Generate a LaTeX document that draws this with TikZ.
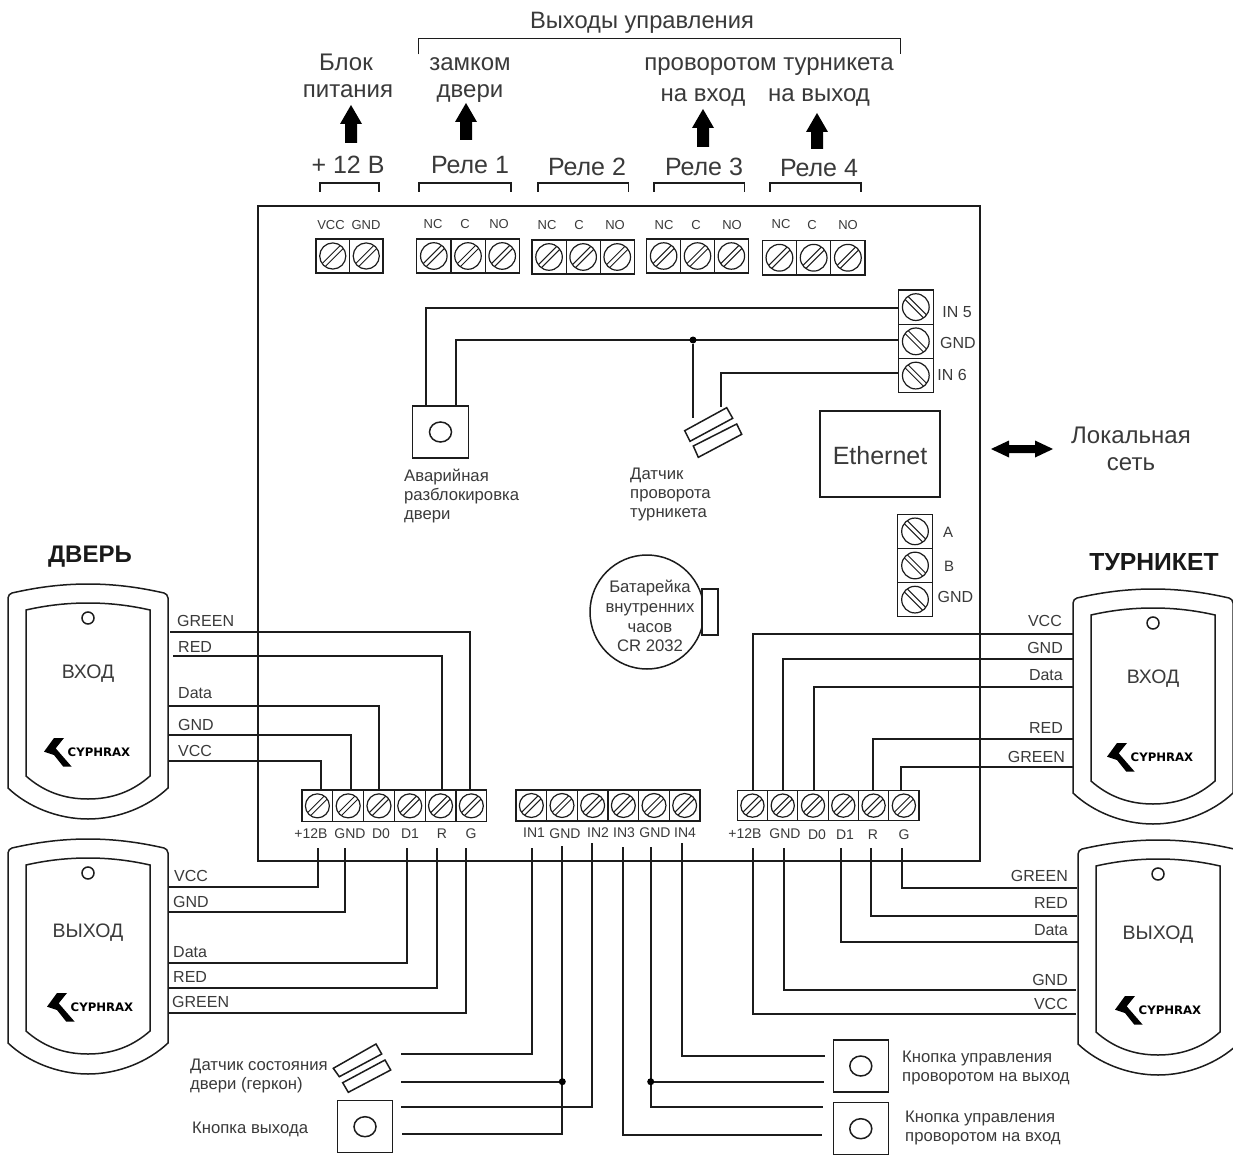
\documentclass[tikz,border=0pt]{standalone}
\usepackage{fontspec}
\setmainfont{Liberation Sans}
\newfontfamily\logofont{DejaVu Sans}
\definecolor{txt}{HTML}{3A3A3A}
\definecolor{ln}{HTML}{1C1C1C}
\tikzset{
  fs/.style={font=\fontsize{#1}{#1}\selectfont},
  lab/.style={inner sep=0pt,text=txt,fs=#1,text height=0.66*#1 pt,text depth=0pt},
  lab/.default=16,
  board/.style={draw=ln,line width=2pt},
  wire/.style={draw=ln,line width=2pt,line cap=butt,line join=miter},
  thin part/.style={draw=ln,line width=1.5pt},
  cell/.style={draw=ln,line width=1.2pt},
  fatarrow/.style={fill=black,draw=none},
  jdot/.style={circle,fill=black,inner sep=0pt,minimum size=7pt},
  heading/.style={inner sep=0pt,font=\bfseries\fontsize{#1}{#1}\selectfont,text=black!90,text height=0.66*#1 pt,text depth=0pt},
}
\newcommand\screw[4]{% cx,cy,r,dir
  \draw[cell] (#1,#2) circle[radius=#3];
  \pgfmathsetmacro\ex{0.68*#3}
  \pgfmathsetmacro\dd{#4}
  \draw[ln,line width=1pt] (#1-\ex*\dd-1.5,#2+\ex-1.5*\dd) -- (#1+\ex*\dd-1.5,#2-\ex-1.5*\dd);
  \draw[ln,line width=1pt] (#1-\ex*\dd+1.5,#2+\ex+1.5*\dd) -- (#1+\ex*\dd+1.5,#2-\ex+1.5*\dd);
}
\newcommand\blockh[7]{%
  \foreach \i in {1,...,#6}{
    \pgfmathsetmacro\xa{#2+(\i-1)*(#4-#2)/#6}
    \pgfmathsetmacro\xb{#2+\i*(#4-#2)/#6}
    \pgfmathsetmacro\xc{(\xa+\xb)/2}
    \pgfmathsetmacro\yc{(#3+#5)/2}
    \pgfmathsetmacro\rr{0.39*min(\xb-\xa,#5-#3)}
    \coordinate (#1\i) at (\xc,\yc);
    \draw[cell] (\xa,#3) rectangle (\xb,#5);
    \screw{\xc}{\yc}{\rr}{#7}
  }
}
\newcommand\blockv[7]{%
  \foreach \i in {1,...,#6}{
    \pgfmathsetmacro\ya{#3+(\i-1)*(#5-#3)/#6}
    \pgfmathsetmacro\yb{#3+\i*(#5-#3)/#6}
    \pgfmathsetmacro\yc{(\ya+\yb)/2}
    \pgfmathsetmacro\xc{(#2+#4)/2}
    \pgfmathsetmacro\rr{0.39*min(\yb-\ya,#4-#2)}
    \coordinate (#1\i) at (\xc,\yc);
    \draw[cell] (#2,\ya) rectangle (#4,\yb);
    \screw{\xc}{\yc}{\rr}{#7}
  }
}
% reader: name,x,y,text,texty,logox,logoy
\newcommand\reader[7]{%
  \begin{scope}[shift={(#2,#3)}]
    \draw[thin part,fill=white] (-80,-20) .. controls (-80,-23) and (-78,-24) .. (-76,-25)
      .. controls (-50,-31) and (-25,-34) .. (0,-34)
      .. controls (25,-34) and (50,-31) .. (76,-25)
      .. controls (78,-24) and (80,-23) .. (80,-20)
      -- (80,170) .. controls (60,189) and (30,201) .. (0,201)
      .. controls (-30,201) and (-60,189) .. (-80,170) -- cycle;
    \draw[thin part] (-62,-8) .. controls (-40,-13) and (-20,-15) .. (0,-15)
      .. controls (20,-15) and (40,-13) .. (62,-8)
      -- (62,158) .. controls (45,173) and (25,181) .. (0,181)
      .. controls (-25,181) and (-45,173) .. (-62,158) -- cycle;
    \draw[thin part] (0,0) circle[radius=6];
    \node[lab=19.5] (#1t) at (0,#5) {#4};
    \begin{scope}[shift={(#6,#7)}]
      \fill[black] (-44,-0.3) -- (-34,-14) -- (-24,-14) -- (-32.3,-3.7) -- (-16.3,14.7) -- (-24.7,14.7) -- (-34,3) -- cycle;
      \node[inner sep=0pt,font=\logofont\bfseries\fontsize{11.7}{12}\selectfont,text=black,anchor=west] (#1l) at (-20.5,0) {CYPHRAX};
    \end{scope}
  \end{scope}
}
\newcommand\button[4]{% name,x1,y1,x2 (square 55x52)
  \draw[thin part] (#2,#3) rectangle (#4,#3+52);
  \coordinate (#1) at ({(#2+#4)/2},#3+26);
  \draw[thin part] (#1) ellipse[x radius=11,y radius=10];
}
\newcommand\reedbar[8]{\draw[thin part] (#1,#2) -- (#3,#4) -- (#5,#6) -- (#7,#8) -- cycle;}
\newcommand\fatup[3]{% x,tip,bottom
  \fill[fatarrow] (#1,#2) -- (#1+11,#2+19) -- (#1+6,#2+19) -- (#1+6,#3) -- (#1-6,#3) -- (#1-6,#2+19) -- (#1-11,#2+19) -- cycle;
}
\newcommand\wire[5]{% name, reader end x,y, terminal end x,y
  \coordinate (#1a) at (#2,#3);
  \coordinate (#1b) at (#4,#5);
  \draw[wire] (#1a) -| (#1b);
}
\newcommand\brk[4]{\draw[ln,line width=1.6pt] (#1,#4) |- (#2,#3) -- (#2,#4);}
\begin{document}
\begin{tikzpicture}[x=1pt,y=-1pt]
\clip (0,0) rectangle (1233,1155);
\fill[white] (0,0) rectangle (1233,1155);

% main board
\draw[board] (258,206) rectangle (980,860.5);

% header brackets and labels
\node[lab=23.7] (hOut) at (642,21) {Выходы управления};
\brk{418.5}{900.5}{38.5}{54.5}
\node[lab=24] (hBp1) at (346,63) {Блок};
\node[lab=24] (hBp2) at (348,90) {питания};
\node[lab=24] (hLk1) at (470,63) {замком};
\node[lab=24] (hLk2) at (470,90) {двери};
\node[lab=24] (hTn) at (769,63) {проворотом турникета};
\node[lab=24] (hIn) at (703,94) {на вход};
\node[lab=24] (hOu) at (819,94) {на выход};
\fatup{351}{105}{143}
\fatup{466}{103}{140}
\fatup{703}{109}{147}
\fatup{817}{113}{149}
\node[lab=25] (h12) at (348,165) {+ 12 В};
\node[lab=25] (hR1) at (470,165) {Реле 1};
\node[lab=25] (hR2) at (587,167) {Реле 2};
\node[lab=25] (hR3) at (704,167) {Реле 3};
\node[lab=25] (hR4) at (819,168) {Реле 4};
\brk{320}{379}{183}{192}
\brk{419}{511}{183}{192}
\brk{538}{628.5}{183}{192}
\brk{654}{744.5}{183}{192}
\brk{770}{861}{183}{192}

% top terminal blocks
\blockh{tp}{316}{239}{383}{273}{2}{1}
\blockh{ra}{416.7}{239}{519.3}{273}{3}{1}
\blockh{rb}{532}{240}{634.3}{274}{3}{1}
\blockh{rc}{646.7}{239}{748.3}{273}{3}{1}
\blockh{rd}{762.3}{240.5}{865}{275}{3}{1}
\node[lab=13] (a1) at (331,225) {VCC};
\node[lab=13] (a2) at (366,225) {GND};
\node[lab=13] (a3) at (433,224) {NC};
\node[lab=13] (a4) at (465,224) {C};
\node[lab=13] (a5) at (499,224) {NO};
\node[lab=13] (a6) at (547,225) {NC};
\node[lab=13] (a7) at (579,225) {C};
\node[lab=13] (a8) at (615,225) {NO};
\node[lab=13] (a9) at (664,225) {NC};
\node[lab=13] (a10) at (696,225) {C};
\node[lab=13] (a11) at (732,225) {NO};
\node[lab=13] (a12) at (781,224) {NC};
\node[lab=13] (a13) at (812,225) {C};
\node[lab=13] (a14) at (848,225) {NO};

% right terminal blocks
\blockv{iv}{898.3}{290}{933.3}{392.7}{3}{-1}
\blockv{ab}{897.3}{514.3}{932.7}{616.7}{3}{-1}
\node[lab=16] (b1) at (957,312) {IN 5};
\node[lab=16] (b2) at (958,343) {GND};
\node[lab=16] (b3) at (952,375) {IN 6};
\node[lab=15] (b4) at (948,533) {A};
\node[lab=15] (b5) at (949,567) {B};
\node[lab=16] (b6) at (955.5,597) {GND};

% inner wiring
\coordinate (btE1) at (426,406);
\coordinate (btE2) at (456,406);
\coordinate (inA) at (898,308);
\coordinate (inB) at (898,340);
\coordinate (inC) at (898,373);
\coordinate (rdT1) at (693,418);
\coordinate (rdT2) at (721,407);
\draw[wire] (inA) -| (btE1);
\draw[wire] (inB) -| (btE2);
\draw[wire] (inC) -| (rdT2);
\node[jdot] (j1) at (693,340) {};
\draw[wire] (j1) -- (rdT1);

% emergency button
\button{bE}{412.7}{406}{468.3}
\node[lab=16.7,anchor=west] (c1) at (404,476) {Аварийная};
\node[lab=16.7,anchor=west] (c2) at (404,495) {разблокировка};
\node[lab=16.7,anchor=west] (c3) at (404,514) {двери};
% turn reed
\reedbar{684.7}{430.7}{726.7}{407.7}{732.7}{418.3}{690}{441.3}
\reedbar{693.3}{446}{736.7}{424}{741.7}{434.3}{698.3}{457.3}
\node[lab=16.7,anchor=west] (c4) at (630,474) {Датчик};
\node[lab=16.7,anchor=west] (c5) at (630,493) {проворота};
\node[lab=16.7,anchor=west] (c6) at (630,512) {турникета};

% ethernet
\node[draw=ln,line width=2pt,minimum width=120pt,minimum height=86pt,inner sep=0pt] (eth) at (879.5,453.7) {};
\node[lab=25] (ethT) at (880,456) {Ethernet};
\fill[fatarrow] (991,449) -- (1009,440.5) -- (1009,445) -- (1035,445) -- (1035,440.5) -- (1053,449) -- (1035,457.5) -- (1035,453) -- (1009,453) -- (1009,457.5) -- cycle;
\node[lab=24] (d1) at (1131,436) {Локальная};
\node[lab=24] (d2) at (1131,463) {сеть};

% battery
\node[circle,draw=ln,line width=1.5pt,minimum size=114pt,inner sep=0pt] (bat) at (647,612) {};
\draw[thin part,fill=white] (702,589) rectangle (718,635);
\node[lab=16.7] (e1) at (650,586.5) {Батарейка};
\node[lab=16.7] (e2) at (650,607) {внутренних};
\node[lab=16.7] (e3) at (650,627) {часов};
\node[lab=16.7] (e4) at (650,646) {CR 2032};

% headings
\node[heading=24] (hD) at (90,555) {ДВЕРЬ};
\node[heading=24.7] (hT) at (1154,562) {ТУРНИКЕТ};

% door entry wiring
\wire{w1}{170}{631.7}{470}{790}
\wire{w2}{173}{655.7}{442}{790}
\wire{w3}{168}{705.7}{379.3}{790}
\wire{w4}{168}{735}{350.7}{790}
\wire{w5}{168}{760.7}{321.3}{790}
% door exit wiring
\wire{w6}{168}{887.3}{318.3}{848}
\wire{w7}{168}{911.7}{345.3}{848}
\wire{w8}{168}{963.3}{407.3}{848}
\wire{w9}{168}{987.7}{437.3}{848}
\wire{w10}{168}{1013.3}{465.7}{848}
% turnstile entry wiring
\wire{w11}{1074}{633.7}{752.7}{790}
\wire{w12}{1074}{658.7}{782.7}{790}
\wire{w13}{1074}{686.7}{814}{790}
\wire{w14}{1074}{739}{873.3}{790}
\wire{w15}{1074}{767.3}{900.7}{790}
% turnstile exit wiring
\wire{w16}{1077}{888.3}{901.7}{848}
\wire{w17}{1077}{915.7}{871}{848}
\wire{w18}{1078}{941.7}{841}{848}
\wire{w19}{1076}{990.3}{784}{848}
\wire{w20}{1076}{1014.3}{753.3}{848}

% readers
\reader{rA}{88}{618}{ВХОД}{54}{0}{134}
\reader{rB}{88}{873}{ВЫХОД}{58}{3}{134}
\reader{rC}{1153}{623}{ВХОД}{54}{-2}{134}
\reader{rD}{1158}{874}{ВЫХОД}{59}{1}{136}

% bottom terminal blocks
\blockh{bl}{302}{790}{486.7}{821.7}{6}{1}
\blockh{bm}{516}{790}{700}{821}{6}{1}
\blockh{br}{737.3}{790.7}{919}{820.5}{6}{1}
\node[lab=14] (f1) at (311,834) {+12В};
\node[lab=14] (f2) at (350,834) {GND};
\node[lab=14] (f3) at (381,834) {D0};
\node[lab=14] (f4) at (410,834) {D1};
\node[lab=14] (f5) at (442,834) {R};
\node[lab=14] (f6) at (471,834) {G};
\node[lab=14] (g1) at (534,833) {IN1};
\node[lab=14] (g2) at (565,834) {GND};
\node[lab=14] (g3) at (598,833) {IN2};
\node[lab=14] (g4) at (624,833) {IN3};
\node[lab=14] (g5) at (655,833) {GND};
\node[lab=14] (g6) at (685,833) {IN4};
\node[lab=14] (k1) at (745,834) {+12В};
\node[lab=14] (k2) at (785,834) {GND};
\node[lab=14] (k3) at (817,835) {D0};
\node[lab=14] (k4) at (845,835) {D1};
\node[lab=14] (k5) at (873,835) {R};
\node[lab=14] (k6) at (904,835) {G};

% reader wire labels
\node[lab=16,anchor=west] (m1) at (177,621) {GREEN};
\node[lab=16,anchor=west] (m2) at (178,647) {RED};
\node[lab=16,anchor=west] (m3) at (178,693) {Data};
\node[lab=16,anchor=west] (m4) at (178,725) {GND};
\node[lab=16,anchor=west] (m5) at (178,751) {VCC};
\node[lab=16,anchor=west] (n1) at (174,876) {VCC};
\node[lab=16,anchor=west] (n2) at (173,902) {GND};
\node[lab=16,anchor=west] (n3) at (173,952) {Data};
\node[lab=16,anchor=west] (n4) at (173,977) {RED};
\node[lab=16,anchor=west] (n5) at (172,1002) {GREEN};
\node[lab=16,anchor=east] (o1) at (1062,621) {VCC};
\node[lab=16,anchor=east] (o2) at (1063,648) {GND};
\node[lab=16,anchor=east] (o3) at (1063,675) {Data};
\node[lab=16,anchor=east] (o4) at (1063,728) {RED};
\node[lab=16,anchor=east] (o5) at (1065,757) {GREEN};
\node[lab=16,anchor=east] (q1) at (1068,876) {GREEN};
\node[lab=16,anchor=east] (q2) at (1068,903) {RED};
\node[lab=16,anchor=east] (q3) at (1068,930) {Data};
\node[lab=16,anchor=east] (q4) at (1068,980) {GND};
\node[lab=16,anchor=east] (q5) at (1068,1004) {VCC};

% bottom wiring
\coordinate (s1) at (401,1054);
\coordinate (s2) at (401,1081.7);
\coordinate (s3) at (401,1107.3);
\coordinate (s4) at (402,1134);
\coordinate (u1) at (825,1056);
\coordinate (u2) at (824,1081.7);
\coordinate (u3) at (822.7,1107.3);
\coordinate (u4) at (821.7,1135);
\coordinate (i1) at (532,848);
\coordinate (i2) at (562.3,846);
\coordinate (i3) at (591.7,843);
\coordinate (i4) at (622.7,847);
\coordinate (i5) at (650.7,847);
\coordinate (i6) at (681.7,843);
\draw[wire] (i1) |- (s1);
\draw[wire] (i2) |- (s4);
\draw[wire] (i3) |- (s3);
\draw[wire] (i4) |- (u4);
\draw[wire] (i5) |- (u3);
\draw[wire] (i6) |- (u1);
\node[jdot] (j2) at (562.3,1081.7) {};
\node[jdot] (j3) at (650.7,1081.7) {};
\draw[wire] (j2) -- (s2);
\draw[wire] (j3) -- (u2);

% bottom devices
\reedbar{333.3}{1068.3}{376}{1044}{381.7}{1054}{339.3}{1076.7}
\reedbar{342.7}{1082.7}{385}{1060}{390.7}{1070}{348.3}{1092.3}
\button{bX}{337.7}{1100.7}{392.3}
\button{bO}{833.3}{1040}{888.3}
\button{bI}{833.3}{1102.7}{888.3}
\node[lab=16.7,anchor=west] (v1) at (190,1065) {Датчик состояния};
\node[lab=16.7,anchor=west] (v2) at (190,1084) {двери (геркон)};
\node[lab=16.7,anchor=west] (v3) at (192,1128) {Кнопка выхода};
\node[lab=16.7,anchor=west] (v4) at (902,1057) {Кнопка управления};
\node[lab=16.7,anchor=west] (v5) at (902,1076) {проворотом на выход};
\node[lab=16.7,anchor=west] (v6) at (905,1117) {Кнопка управления};
\node[lab=16.7,anchor=west] (v7) at (905,1136) {проворотом на вход};
\end{tikzpicture}
\end{document}
